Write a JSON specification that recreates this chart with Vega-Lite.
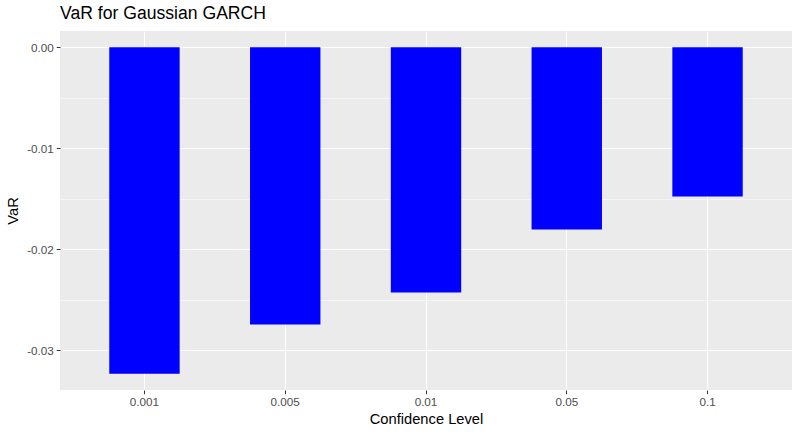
{
  "$schema": "https://vega.github.io/schema/vega-lite/v6.json",
  "width": 732,
  "height": 359,
  "autosize": {"type": "none"},
  "padding": {"left": 60, "top": 31, "right": 8, "bottom": 46},
  "background": "white",
  "title": {
    "text": "VaR for Gaussian GARCH",
    "anchor": "start",
    "frame": "group",
    "font": "Liberation Sans",
    "fontSize": 17.6,
    "fontWeight": "normal",
    "color": "black",
    "offset": 8
  },
  "data": {
    "values": [
      {"level": "0.001", "VaR": -0.03231},
      {"level": "0.005", "VaR": -0.02745},
      {"level": "0.01", "VaR": -0.02427},
      {"level": "0.05", "VaR": -0.01804},
      {"level": "0.1", "VaR": -0.01477}
    ]
  },
  "mark": {"type": "bar", "color": "#0000FF"},
  "encoding": {
    "x": {
      "field": "level",
      "type": "nominal",
      "sort": null,
      "title": "Confidence Level",
      "scale": {"paddingInner": 0.5, "paddingOuter": 0.35},
      "axis": {
        "labelAngle": 0,
        "labelFont": "Liberation Sans",
        "labelFontSize": 11.7,
        "labelColor": "#4D4D4D",
        "labelPadding": 3,
        "tickColor": "#333333",
        "tickSize": 3.7,
        "tickWidth": 1,
        "domain": false,
        "grid": true,
        "gridColor": "white",
        "gridWidth": 1.07,
        "titleFont": "Liberation Sans",
        "titleFontSize": 14.7,
        "titleFontWeight": "normal",
        "titleColor": "black",
        "titlePadding": 3
      }
    },
    "y": {
      "field": "VaR",
      "type": "quantitative",
      "title": "VaR",
      "scale": {"domain": [-0.03393, 0.00162], "nice": false, "zero": false},
      "axis": {
        "values": [0, -0.005, -0.01, -0.015, -0.02, -0.025, -0.03],
        "labelExpr": "indexof([-0.005, -0.015, -0.025], datum.value) >= 0 ? '' : replace(format(datum.value, '.2f'), '\u2212', '-')",
        "labelFont": "Liberation Sans",
        "labelFontSize": 11.7,
        "labelColor": "#4D4D4D",
        "labelPadding": 3,
        "tickColor": "#333333",
        "tickSize": 3.7,
        "tickWidth": 1,
        "tickOpacity": {"condition": {"test": "indexof([-0.005, -0.015, -0.025], datum.value) >= 0", "value": 0}, "value": 1},
        "domain": false,
        "grid": true,
        "gridColor": "white",
        "gridWidth": {"condition": {"test": "indexof([-0.005, -0.015, -0.025], datum.value) >= 0", "value": 0.53}, "value": 1.07},
        "titleFont": "Liberation Sans",
        "titleFontSize": 14.7,
        "titleFontWeight": "normal",
        "titleColor": "black",
        "titlePadding": 6
      }
    }
  },
  "config": {
    "view": {"fill": "#EBEBEB", "stroke": null}
  }
}
